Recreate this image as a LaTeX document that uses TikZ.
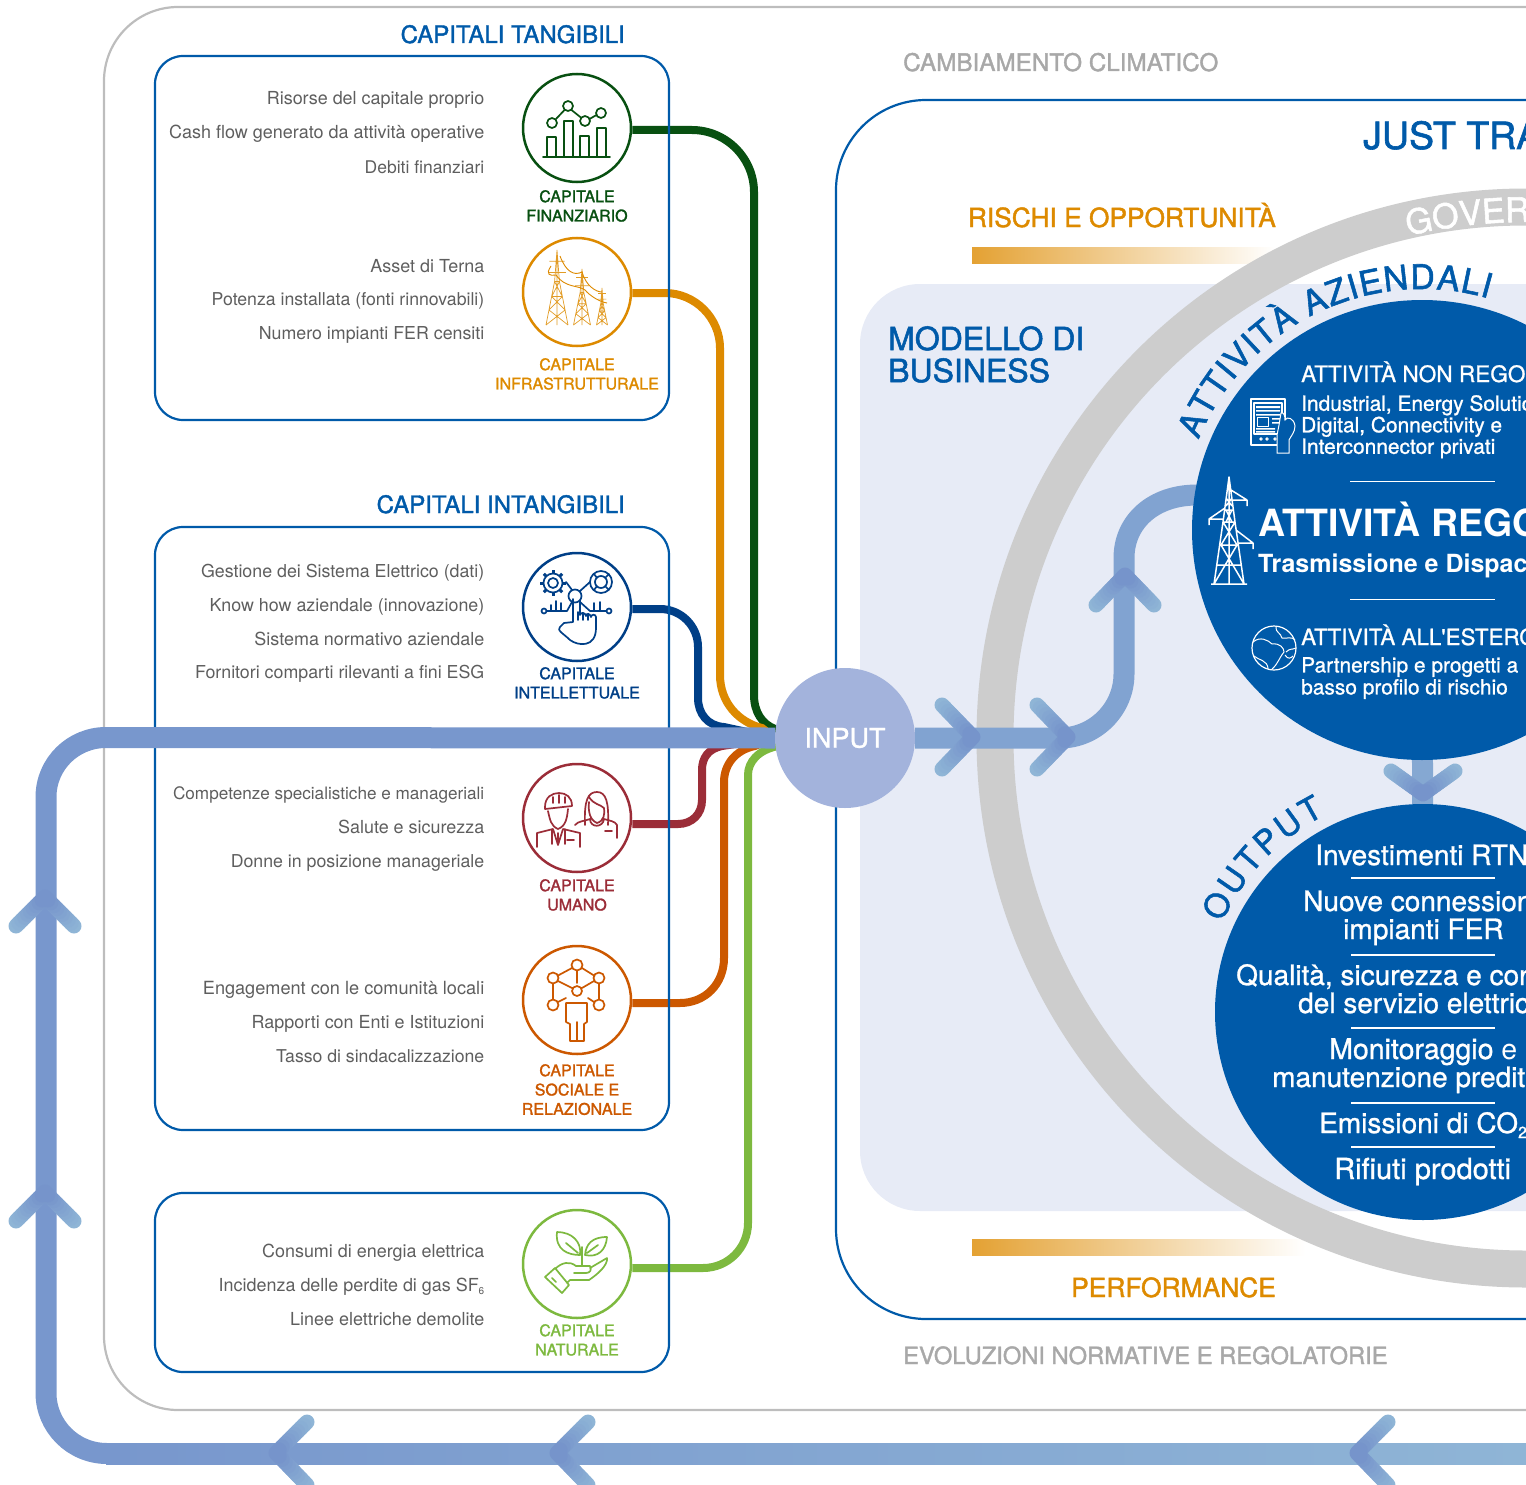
\documentclass[tikz,border=0pt]{standalone}
\usepackage{fontspec}
\setmainfont{TeX Gyre Heros}
\newfontfamily\medf[FakeBold=1.6]{TeX Gyre Heros}
\newfontfamily\medt[FakeBold=1.0]{TeX Gyre Heros}
\usetikzlibrary{decorations.text,calc}
\pgfdeclarelayer{bg}\pgfdeclarelayer{conn}\pgfdeclarelayer{boxes}\pgfdeclarelayer{flow}
\pgfsetlayers{bg,conn,boxes,flow,main}
\definecolor{cblue}{HTML}{005AA9}
\definecolor{ctext}{HTML}{5E5E5E}
\definecolor{cgray}{HTML}{A8A8A8}
\definecolor{cframe}{HTML}{BDBDBD}
\definecolor{cring}{HTML}{CDCDCD}
\definecolor{cpanel}{HTML}{E7EBF6}
\definecolor{cinput}{HTML}{A3B3DC}
\definecolor{flowa}{HTML}{7694CB}
\definecolor{flowb}{HTML}{8FB5D6}
\definecolor{flowc}{HTML}{7897CD}
\definecolor{cfin}{HTML}{085011}
\definecolor{cinf}{HTML}{DD8A00}
\definecolor{cint}{HTML}{003F87}
\definecolor{cum}{HTML}{9B2D38}
\definecolor{csoc}{HTML}{CC5800}
\definecolor{cnat}{HTML}{7DB93F}
\newcommand\fsz[1]{\fontsize{#1}{#1}\selectfont}
\newcommand\cliparea{\clip (0,0) rectangle (1526,1485);}
% arm end 1, tip, arm end 2: colour runs from flowb at the arm ends to flowa at the tip
\newcommand\chev[6]{%
  \foreach \i in {0,...,9}{%
    \pgfmathsetmacro\ta{\i/10}\pgfmathsetmacro\tb{(\i+1)/10}\pgfmathsetmacro\pc{100-\i*11}%
    \draw[line width=15pt,line cap=round,color=flowb!\pc!flowa]
      ($(#1,#2)!\ta!(#3,#4)$) -- ($(#1,#2)!\tb!(#3,#4)$)
      ($(#5,#6)!\ta!(#3,#4)$) -- ($(#5,#6)!\tb!(#3,#4)$);}}
\newcommand\pyl[4]{%
  \pgfmathsetmacro\hh{#3-#2}\pgfmathsetmacro\ya{#2+.42*\hh}\pgfmathsetmacro\yb{#2+.15*\hh}\pgfmathsetmacro\yc{#2+.3*\hh}
  \pgfmathsetmacro\yd{#2+.62*\hh}\pgfmathsetmacro\ye{#2+.8*\hh}
  \pgfmathsetmacro\xa{#1-.22*#4}\pgfmathsetmacro\xb{#1+.22*#4}
  \pgfmathsetmacro\xc{#1-.48*#4}\pgfmathsetmacro\xd{#1+.48*#4}\pgfmathsetmacro\xe{#1-.73*#4}\pgfmathsetmacro\xf{#1+.73*#4}
  \draw[cinf!85,line width=.7pt] (#1-#4,#3) -- (\xa,\ya) -- (#1,#2) -- (\xb,\ya) -- (#1+#4,#3)
   (\xa,\ya) -- (\xb,\ya) (\xc,\yd) -- (\xd,\yd)
   (\xa,\ya) -- (\xd,\yd) (\xb,\ya) -- (\xc,\yd) (\xc,\yd) -- (\xf,\ye) (\xd,\yd) -- (\xe,\ye)
   (\xe,\ye) -- (#1+#4,#3) (\xf,\ye) -- (#1-#4,#3) (#1,#2) -- (#1,#3)
   (#1-#4*.7,\yb) -- (#1+#4*.7,\yb) (#1-#4*.8,\yc) -- (#1+#4*.8,\yc);}
\tikzset{
  txt/.style={anchor=base east,inner sep=0pt,text=ctext,font=\fsz{17.95}},
  capt/.style={anchor=north,inner sep=0pt,align=center,font=\medf\fontsize{16}{19.3}\selectfont,text=#1},
  capc/.style={circle,draw=#1,line width=2.5pt,fill=white,minimum size=108pt,inner sep=0pt},
  ln/.style={line width=8pt,#1},
  ic/.style={#1,line width=1.7pt,line join=round,line cap=round},
  wh/.style={white,line width=1.2pt,line join=round},
  bx/.style={draw=cblue,line width=2.2pt,rounded corners=28pt},
  head/.style={anchor=base east,inner sep=0pt,text=cblue,font=\medf\fsz{24}},
  lf/.style={anchor=base west,inner sep=0pt,text=white},
  sep/.style={white,line width=1.2pt},
  flowline/.style={line width=21pt,#1}
}
\begin{document}
\begin{tikzpicture}[x=1pt,y=-1pt]
\useasboundingbox (0,0) rectangle (1526,1485);
\cliparea
% ---------- main-layer nodes
\node[capc=cfin] (fin) at (577,128) {};
\node[capc=cinf] (inf) at (577,292) {};
\node[capc=cint] (int) at (577,607) {};
\node[capc=cum] (uma) at (577,818) {};
\node[capc=csoc] (soc) at (577,1000) {};
\node[capc=cnat] (nat) at (577,1264) {};
\node[circle,fill=cinput,minimum size=140pt,inner sep=0pt,text=white,font=\medt\fsz{27}] (input) at (845,738) {INPUT};
\fill[cblue] (1422,530) circle[radius=230];
\fill[cblue] (1423,1012) circle[radius=208];
\coordinate (c1) at (1422,530);
\coordinate (c2) at (1423,1012);

\begin{pgfonlayer}{bg}
\cliparea
\draw[cframe,line width=2.2pt,rounded corners=74pt] (1600,7) -- (104,7) -- (104,1410) -- (1600,1410);
\draw[cblue,line width=2.2pt,rounded corners=90pt] (1600,100) -- (836,100) -- (836,1319) -- (1600,1319);
\shade[left color=cinf!80,right color=white] (972,247) rectangle (1275,263);
\shade[left color=cinf!80,right color=white] (972,1239) rectangle (1305,1255);
\fill[cpanel,rounded corners=60pt] (1600,284) -- (860,284) -- (860,1211) -- (1600,1211) -- cycle;
\draw[cring,line width=37pt] (1526,738) circle[radius=531];
\end{pgfonlayer}

\begin{pgfonlayer}{conn}
\cliparea
\draw[ln=cfin] ([yshift=-2pt]fin.east) -- (692,130) .. controls (726,130) and (754,158) .. (754,192) -- (754,695) .. controls (754,712) and (762,724) .. (775,729) -- (input.west);
\draw[ln=cinf] ([yshift=-1pt]inf.east) -- (665,293) .. controls (695,293) and (720,318) .. (720,348) -- (720,675) .. controls (720,702) and (738,722) .. (762,728) -- (input.west);
\draw[ln=cint] ([yshift=-2pt]int.east) -- (660,609) .. controls (681,609) and (698,626) .. (698,647) -- (698,698) .. controls (698,714) and (708,726) .. (724,727) -- (input.west);
\draw[ln=cum] ([yshift=-6pt]uma.east) -- (678,824) .. controls (692,824) and (702,814) .. (702,800) -- (702,770) .. controls (702,758) and (708,749) .. (722,746) -- (input.west);
\draw[ln=csoc] ([yshift=-3pt]soc.east) -- (680,1003) .. controls (705,1003) and (724,984) .. (724,958) -- (724,782) .. controls (724,765) and (735,750) .. (755,746) -- (input.west);
\draw[ln=cnat] ([yshift=-4pt]nat.east) -- (703,1268) .. controls (728,1268) and (748,1248) .. (748,1223) -- (748,775) .. controls (748,762) and (758,750) .. (778,746) -- (input.west);
\end{pgfonlayer}

\begin{pgfonlayer}{boxes}
\cliparea
\draw[bx] (155,56) rectangle (669,420);
\draw[bx] (155,527) rectangle (669,1130);
\draw[bx] (155,1193) rectangle (669,1372);
\end{pgfonlayer}

\begin{pgfonlayer}{flow}
\cliparea
% feedback loop
\draw[flowline=flowc] (input.west) -- (106,737.5) .. controls (73,737.5) and (46,764) .. (46,797) -- (46,1393) .. controls (46,1426) and (73,1453.5) .. (107,1453.5);
\shade[left color=flowc,right color=flowb] (106,1443) rectangle (1526,1464);
% forward flow
\draw[flowline=flowc!60!flowb] (input.east) -- (1060,738) .. controls (1095,738) and (1124,709) .. (1124,674) -- (1124,558) .. controls (1124,522) and (1153,495) .. (1197,495);
\draw[flowline=flowb!60!flowa] (c1) -- (c2);
\chev{942}{705}{973}{737}{942}{769}
\chev{1037}{705}{1068}{737}{1037}{769}
\chev{1096}{605}{1125}{575}{1154}{605}
\chev{1391}{771}{1423}{794}{1455}{771}
\chev{16}{926}{45}{897}{74}{926}
\chev{16}{1221}{45}{1192}{74}{1221}
\chev{307}{1422}{276}{1453}{307}{1485}
\chev{588}{1422}{557}{1453}{588}{1485}
\chev{1388}{1422}{1357}{1453}{1388}{1485}
\end{pgfonlayer}

% ---------- headings
\node[head] (hTang) at (625,43) {CAPITALI TANGIBILI};
\node[head] (hIntang) at (625,513) {CAPITALI INTANGIBILI};
\node[anchor=base west,inner sep=0pt,text=cgray,font=\medf\fsz{24.25}] (hClima) at (903,71) {CAMBIAMENTO CLIMATICO};
\node[anchor=base west,inner sep=0pt,text=cgray,font=\medf\fsz{23.7}] (hNorm) at (903,1364) {EVOLUZIONI NORMATIVE E REGOLATORIE};
\node[anchor=base west,inner sep=0pt,text=cblue,font=\medf\fsz{37.5}] (hJust) at (1363,149) {JUST TRA};
\node[anchor=base east,inner sep=0pt,text=cinf,font=\medf\fsz{26.3}] (hRisk) at (1276,227) {RISCHI E OPPORTUNITÀ};
\node[anchor=base east,inner sep=0pt,text=cinf,font=\medf\fsz{26.4}] (hPerf) at (1276,1297) {PERFORMANCE};
\node[anchor=north west,inner sep=0pt,align=left,text=cblue,font=\medf\fontsize{32}{32}\selectfont] (hMod) at (888,326) {MODELLO DI\\BUSINESS};

% ---------- capital lists
\node[txt] (a1) at (484.5,105) {Risorse del capitale proprio};
\node[txt,font=\fsz{18}] (a2) at (484.5,139) {Cash flow generato da attività operative};
\node[txt,font=\fsz{17.5}] (a3) at (484.5,173) {Debiti finanziari};
\node[txt] (b1) at (484.5,272) {Asset di Terna};
\node[txt,font=\fsz{17.7}] (b2) at (484.5,305) {Potenza installata (fonti rinnovabili)};
\node[txt,font=\fsz{17.8}] (b3) at (484.5,339) {Numero impianti FER censiti};
\node[txt,font=\fsz{17.8}] (c1t) at (484.5,577) {Gestione dei Sistema Elettrico (dati)};
\node[txt,font=\fsz{17.85}] (c2t) at (484.5,611) {Know how aziendale (innovazione)};
\node[txt] (c3t) at (484.5,645) {Sistema normativo aziendale};
\node[txt,font=\fsz{17.8}] (c4t) at (484.5,678) {Fornitori comparti rilevanti a fini ESG};
\node[txt,font=\fsz{17.15}] (d1) at (484.5,799) {Competenze specialistiche e manageriali};
\node[txt] (d2) at (484.5,833) {Salute e sicurezza};
\node[txt,font=\fsz{17.75}] (d3) at (484.5,867) {Donne in posizione manageriale};
\node[txt,font=\fsz{18.15}] (e1) at (484.5,994) {Engagement con le comunità locali};
\node[txt] (e2) at (484.5,1028) {Rapporti con Enti e Istituzioni};
\node[txt,font=\fsz{17.65}] (e3) at (484.5,1062) {Tasso di sindacalizzazione};
\node[txt] (f1) at (484.5,1257) {Consumi di energia elettrica};
\node[txt] (f2) at (484.5,1291) {Incidenza delle perdite di gas SF\raisebox{-3pt}{\fsz{10}6}};
\node[txt] (f3) at (484.5,1325) {Linee elettriche demolite};

% ---------- capital captions
\node[capt=cfin] (lfin) at (577,190) {CAPITALE\\FINANZIARIO};
\node[capt=cinf] (linf) at (577,358) {CAPITALE\\INFRASTRUTTURALE};
\node[capt=cint] (lint) at (577,667) {CAPITALE\\INTELLETTUALE};
\node[capt=cum] (lum) at (577,879) {CAPITALE\\UMANO};
\node[capt=csoc] (lsoc) at (577,1064) {CAPITALE\\SOCIALE E\\RELAZIONALE};
\node[capt=cnat] (lnat) at (577,1324) {CAPITALE\\NATURALE};

% ---------- upper circle
\node[lf,font=\medt\fsz{22.6}] (n1) at (1301,382) {ATTIVITÀ NON REGOL};
\node[lf,font=\medt\fontsize{20.9}{21.5}\selectfont,align=left,anchor=north west] (n2) at (1301,395) {Industrial, Energy Solutio\\Digital, Connectivity e\\Interconnector privati};
\draw[sep] (1350,481.5) -- (1495,481.5);
\node[lf,font=\bfseries\fsz{37.5}] (n3) at (1258,536) {ATTIVITÀ REGO};
\node[lf,font=\bfseries\fsz{25}] (n4) at (1258,572) {Trasmissione e Dispac};
\draw[sep] (1350,599.5) -- (1495,599.5);
\node[lf,font=\medt\fsz{22.4}] (n5) at (1301,645) {ATTIVITÀ ALL'ESTERO};
\node[lf,font=\medt\fontsize{20.9}{22}\selectfont,align=left,anchor=north west] (n6) at (1301,657) {Partnership e progetti a\\basso profilo di rischio};

% ---------- lower circle
\node[lf,font=\medt\fsz{28}] (o1) at (1315,865) {Investimenti RTN};
\draw[sep] (1351,878) -- (1495,878);
\node[lf,font=\medt\fsz{28}] (o2) at (1303,911) {Nuove connession};
\node[lf,font=\medt\fsz{28}] (o3) at (1343,939) {impianti FER};
\draw[sep] (1351,955) -- (1495,955);
\node[lf,font=\medt\fsz{28}] (o4) at (1236,985) {Qualità, sicurezza e con};
\node[lf,font=\medt\fsz{28}] (o5) at (1298,1013) {del servizio elettric};
\draw[sep] (1351,1028) -- (1495,1028);
\node[lf,font=\medt\fsz{28.5}] (o6) at (1329,1059) {Monitoraggio {\rmfamily e}};
\node[lf,font=\medt\fsz{28}] (o7) at (1272,1087) {manutenzione predit};
\draw[sep] (1351,1103) -- (1495,1103);
\node[lf,font=\medt\fsz{28}] (o8) at (1319,1133) {Emissioni di CO\raisebox{-5pt}{\fsz{16}2}};
\draw[sep] (1351,1147) -- (1495,1147);
\node[lf,font=\medt\fsz{29}] (o9) at (1334,1179) {Rifiuti prodotti};

% ---------- curved texts
\path[decorate,decoration={text along path,text align={fit to path},
  text={|\medf\fsz{34}\color{cblue}|ATTIVITÀ AZIENDALI}}]
  plot[domain=158:74,samples=70] ({1422+241*cos(\x)},{530-241*sin(\x)});
\path[decorate,decoration={text along path,text align={fit to path},
  text={|\medf\fsz{33}\color{cblue}|OUTPUT}}]
  plot[domain=156:116.5,samples=40] ({1423+220*cos(\x)},{1012-220*sin(\x)});
\path[decorate,decoration={text along path,text align=left,
  text={|\medf\fsz{34}\color{white}|GOVER}}]
  plot[domain=103.2:78,samples=40] ({1526+516*cos(\x)},{738-516*sin(\x)});

% ---------- icons: finance
\draw[ic=cfin] (543,157) -- (610,157)
  (547,157) -- (547,137) -- (556,137) -- (556,157)
  (564,157) -- (564,121) -- (573,121) -- (573,157)
  (580,157) -- (580,136) -- (589,136) -- (589,157)
  (597,157) -- (597,128) -- (606,128) -- (606,157);
\draw[ic=cfin] (552,123) circle[radius=5] (568,106) circle[radius=5] (585,121) circle[radius=5] (601,113) circle[radius=5]
  (555.5,119.5) -- (564.5,110) (571.5,110) -- (581.5,118) (589.5,119) -- (596.5,115);
% infrastructure
\pyl{557}{250}{325}{11}
\pyl{582}{269}{325}{8.5}
\pyl{602}{288}{325}{5.5}
\draw[cinf,line width=.9pt] (560,256) .. controls (566,272) and (574,276) .. (582,272) .. controls (586,286) and (596,292) .. (602,292)
  (551,266) .. controls (545,275) and (550,276) .. (556,275) .. controls (565,288) and (578,285) .. (585,290) .. controls (590,296) and (600,302) .. (607,303);
% intellectual
\draw[ic=cint] (553,583) circle[radius=5] (553,583) circle[radius=9.5];
\foreach \a in {0,45,...,315}{\draw[cint,line width=3pt] ({553+9*cos(\a)},{583+9*sin(\a)}) -- ({553+13*cos(\a)},{583+13*sin(\a)});}
\draw[ic=cint] (601,582) circle[radius=11] (601,582) circle[radius=6]
  (594,574) -- (597,578) (609,574) -- (605,578) (594,590) -- (597,586) (609,590) -- (605,586);
\draw[ic=cint] (575,596) circle[radius=6.5]
  (566,582) -- (572,590) (590,582) -- (580,591)
  (544,611) circle[radius=2.5] (609,611) circle[radius=2.5]
  (547,611) -- (567,611) -- (572,602) (580,602) -- (590,611) -- (606,611)
  (551,611) -- (551,605) (556,611) -- (556,601) (561,611) -- (561,603)
  (594,611) -- (594,603) (600,611) -- (600,602)
  (573,599) -- (573,622) (560,627) .. controls (556,630) and (564,634) .. (570,640) .. controls (578,646) and (596,648) .. (596,628) -- (596,617) .. controls (596,614) and (591,614) .. (591,617)
  .. controls (590,613) and (586,613) .. (586,616) .. controls (585,612) and (581,612) .. (580,615) -- (580,600) (573,622) -- (564,623) -- (560,627)
  (578,612) -- (578,620) (583,613) -- (583,620) (588,615) -- (588,620);
% human
\draw[ic=cum] (545,807) .. controls (545,797) and (552,793) .. (559,793) .. controls (566,793) and (572,797) .. (572,806) -- (545,809) -- cycle
  (553,797) -- (553,803) (559,795) -- (559,803) (565,797) -- (565,803)
  (548,811) .. controls (550,820) and (551,826) .. (558,829) .. controls (566,826) and (567,818) .. (568,809)
  (537,847) -- (537,833) -- (553,829) -- (558,845) -- (563,829) -- (580,833) -- (580,847)
  (552,829) -- (552,844) (565,829) -- (565,844) (558,833) -- (558,845)
  (567,840) -- (574,840)
  (585,825) .. controls (584,800) and (588,792) .. (597,792) .. controls (606,792) and (609,802) .. (608,825)
  (589,797) .. controls (594,805) and (600,804) .. (604,808) (589,802) .. controls (588,812) and (590,820) .. (597,823) .. controls (604,821) and (605,814) .. (604,808)
  (575,825) .. controls (578,821) and (585,821) .. (590,819) .. controls (590,828) and (603,828) .. (604,819) .. controls (610,821) and (615,821) .. (617,825) -- (617,838)
  (605,831) -- (612,831);
% social
\draw[ic=csoc] (577,965) circle[radius=5.5] (553,978) circle[radius=5.5] (599,978) circle[radius=5.5] (553,1005) circle[radius=5.5] (599,1005) circle[radius=5.5] (577,991) circle[radius=5]
  (572,968) -- (558,975.5) (582,968) -- (594,975.5) (577,970.5) -- (577,983) (553,983.5) -- (553,999.5) (599,983.5) -- (599,999.5)
  (558,981) -- (572,988) (594,981) -- (582,988) (558,1002) -- (566,998) (594,1002) -- (588,998)
  (566,1022) -- (566,1003) -- (587,1003) -- (587,1022)
  (566,1022) -- (570,1024) -- (570,1041) -- (584,1041) -- (584,1024) -- (587,1022)
  (577,1022) -- (577,1041);
% natural
\draw[ic=cnat] (557,1232) .. controls (572,1232) and (582,1242) .. (580,1255) .. controls (568,1255) and (555,1250) .. (557,1232) (566,1243) -- (578,1253)
  (607,1237) .. controls (606,1250) and (598,1258) .. (585,1255) .. controls (586,1244) and (592,1237) .. (607,1237) (598,1245) -- (587,1253)
  (582,1247) -- (582,1266)
  (545,1277) -- (555,1268) -- (569,1285) -- (562,1293) -- cycle (552,1278) -- (556,1282)
  (555,1269) .. controls (562,1262) and (570,1261) .. (576,1266) -- (590,1266) .. controls (592,1270) and (590,1273) .. (586,1273) -- (574,1273)
  (590,1268) -- (607,1258) .. controls (608,1265) and (598,1274) .. (589,1280) -- (570,1280) -- (567,1283);
% tablet
\draw[wh] (1251,399) rectangle (1285,445) (1254,403) rectangle (1282,434);
\fill[white] (1256,406) rectangle (1280,408) (1256,410) rectangle (1280,411.5) (1256,414) rectangle (1280,415.5) (1256,428) rectangle (1275,429.5) (1256,431) rectangle (1275,432.5) (1272,418) rectangle (1280,419.5) (1272,422) rectangle (1280,423.5);
\draw[wh,line width=1pt] (1257,417) rectangle (1268,426);
\draw[white,line width=1pt] (1261,439) circle[radius=1.2] (1267,439) circle[radius=1.2] (1275,439) circle[radius=1.2];
\path[fill=cblue,draw=white,line width=1pt] (1277,453) -- (1277,435) -- (1279,425) -- (1281,413) .. controls (1284,412) and (1285,416) .. (1285,420) .. controls (1287,416) and (1294,418) .. (1295,426) .. controls (1295,432) and (1291,436) .. (1289,440) -- (1289,453) -- cycle;
% white tower
\draw[wh,line width=1.5pt] (1211,584) -- (1247,584)
  (1214,584) -- (1223,522) -- (1229,477) -- (1235,522) -- (1244,584)
  (1229,477) -- (1229,584) (1223,522) -- (1235,522) (1221,545) -- (1237,545) (1217,565) -- (1241,565)
  (1214,584) -- (1237,545) (1244,584) -- (1221,545) (1221,545) -- (1235,522) (1237,545) -- (1223,522)
  (1226,498) -- (1232,506) (1232,498) -- (1226,506) (1224,510) -- (1234,510) (1226,510) -- (1232,522) (1232,510) -- (1226,522)
  (1231,490) -- (1247,500) -- (1232,500) (1247,500) -- (1247,506)
  (1225,508) -- (1209,519) -- (1224,519) (1209,519) -- (1209,525)
  (1236,530) -- (1253,543) -- (1238,543) (1253,543) -- (1253,549);
% globe
\draw[wh] (1274,648) circle[radius=22];
\draw[white,line width=1pt,line join=round]
  (1253,642) .. controls (1260,636) and (1268,640) .. (1272,644) .. controls (1280,643) and (1284,648) .. (1284,652) .. controls (1279,658) and (1278,664) .. (1272,669)
  (1268,669) .. controls (1268,660) and (1258,660) .. (1254,656)
  (1276,627) .. controls (1275,632) and (1281,633) .. (1282,638) .. controls (1286,639) and (1292,636) .. (1295,640)
  (1286,652) .. controls (1290,648) and (1292,650) .. (1296,648) (1285,655) .. controls (1288,660) and (1291,658) .. (1293,656);
\end{tikzpicture}
\end{document}
